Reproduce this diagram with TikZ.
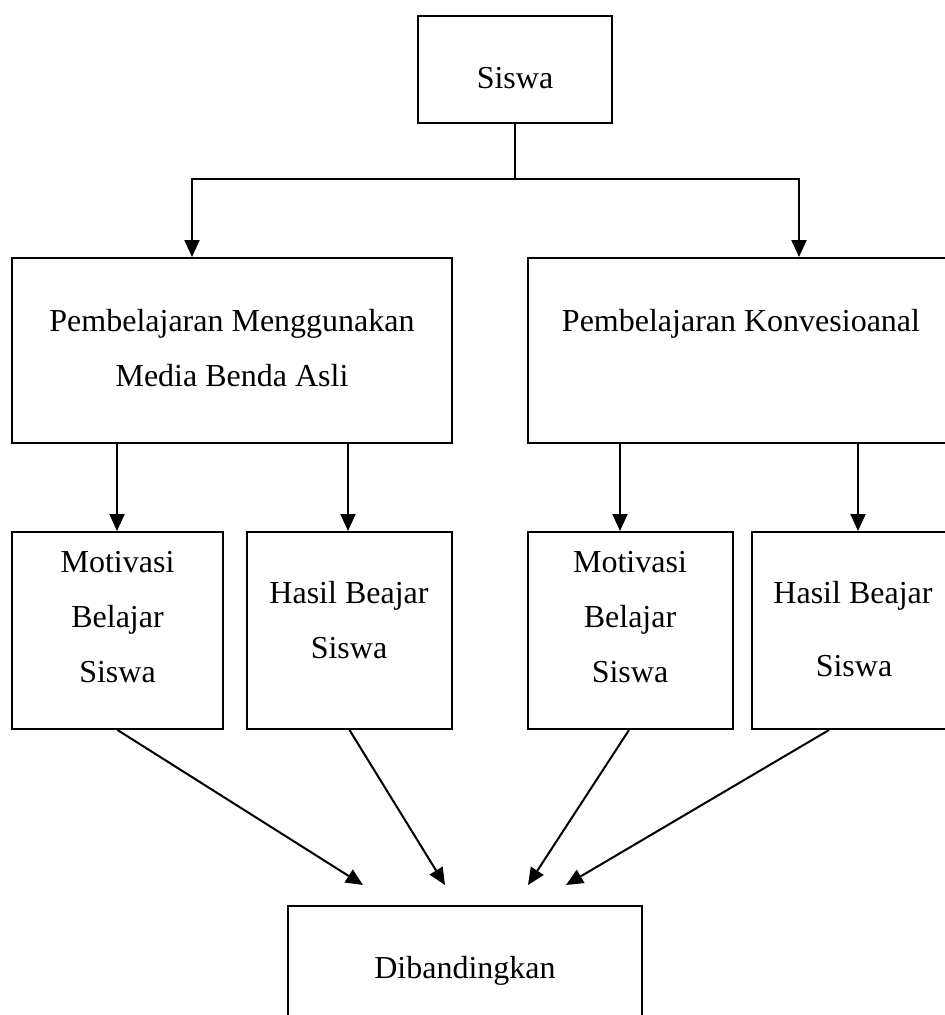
\documentclass[tikz,border=0pt]{standalone}
\usepackage{fontspec}
\setmainfont{Liberation Serif}
\usetikzlibrary{arrows.meta,positioning}

\begin{document}
\begin{tikzpicture}[x=1pt, y=-1pt, >={Triangle[length=17pt,width=15pt]},
  box/.style={draw, line width=2pt, inner sep=0pt},
  lbl/.style={font=\fontsize{32}{55}\selectfont, align=center, anchor=base, inner sep=0pt},
  link/.style={line width=2pt}]
  \useasboundingbox (0,0) rectangle (945,1015);
  % boxes
  \node[box, minimum width=194pt, minimum height=107pt] (siswa) at (515,69.5) {};
  \node[box, minimum width=440pt, minimum height=185pt] (pbm)   at (232,350.5) {};
  \node[box, minimum width=432pt, minimum height=185pt] (pbk)   at (744,350.5) {};
  \node[box, minimum width=211pt, minimum height=197pt] (mot1)  at (117.5,630.5) {};
  \node[box, minimum width=205pt, minimum height=197pt] (hsl1)  at (349.5,630.5) {};
  \node[box, minimum width=205pt, minimum height=197pt] (mot2)  at (630.5,630.5) {};
  \node[box, minimum width=210pt, minimum height=197pt] (hsl2)  at (857,630.5) {};
  \node[box, minimum width=354pt, minimum height=130pt] (banding) at (465,971) {};
  % texts (base = last line)
  \node[lbl] (tsiswa) at (515,88) {Siswa};
  \node[lbl] (tpbm)   at (232,386) {Pembelajaran Menggunakan\\Media Benda Asli};
  \node[lbl] (tpbk)   at (741,331) {Pembelajaran Konvesioanal};
  \node[lbl] (tmot1)  at (117.5,682) {Motivasi\\Belajar\\Siswa};
  \node[lbl] (thsl1)  at (349,658) {Hasil Beajar\\Siswa};
  \node[lbl] (tmot2)  at (630,682) {Motivasi\\Belajar\\Siswa};
  \node[lbl] (thsl2a) at (853,603) {Hasil Beajar};
  \node[lbl] (thsl2b) at (854,676) {Siswa};
  \node[lbl] (tbanding) at (465,978) {Dibandingkan};
  % connectors
  \coordinate (split) at (515,179);
  \draw[link] (siswa.south) -- (split);
  \draw[link,->] (split) -| ([xshift=181pt]pbm.north west);
  \draw[link,->] (split) -| ([xshift=272pt]pbk.north west);
  \draw[link,->] ([xshift=106pt]pbm.south west) coordinate (a1) -- (a1 |- mot1.north);
  \draw[link,->] ([xshift=337pt]pbm.south west) coordinate (a2) -- (a2 |- hsl1.north);
  \draw[link,->] ([xshift=93pt]pbk.south west)  coordinate (a3) -- (a3 |- mot2.north);
  \draw[link,->] ([xshift=331pt]pbk.south west) coordinate (a4) -- (a4 |- hsl2.north);
  \coordinate (e1) at (363,885);
  \coordinate (e2) at (445,885);
  \coordinate (e3) at (528,885);
  \coordinate (e4) at (566,885);
  \draw[link,->] (mot1.south) -- (e1);
  \draw[link,->] (hsl1.south) -- (e2);
  \draw[link,->] ([xshift=102pt]mot2.south west) -- (e3);
  \draw[link,->] ([xshift=78pt]hsl2.south west) -- (e4);
\end{tikzpicture}
\end{document}
